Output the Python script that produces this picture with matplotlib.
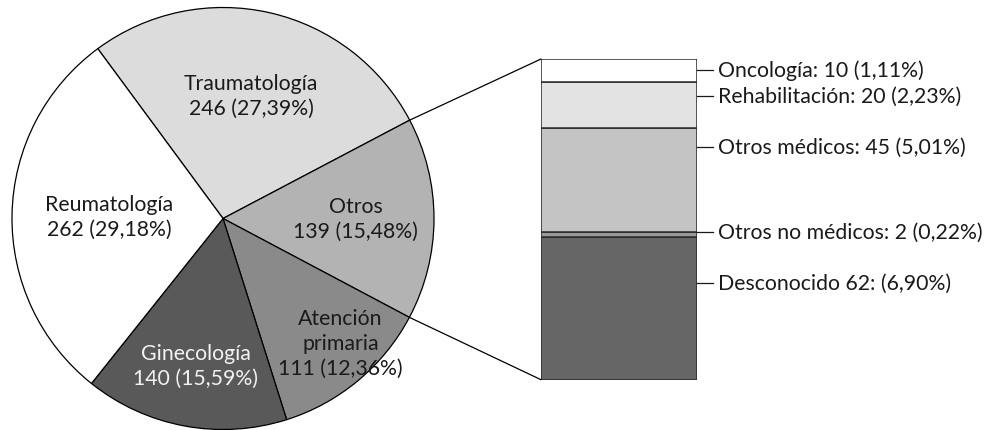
import matplotlib.pyplot as plt
import numpy as np
from matplotlib.patches import ConnectionPatch

plt.rcParams['font.family'] = ['Lato', 'DejaVu Sans']

# main pie: patients per referring service (clockwise from the top-left)
servicios = ['Traumatología', 'Otros', 'Atención\nprimaria', 'Ginecología', 'Reumatología']
pacientes = [246, 139, 111, 140, 262]
porcentajes = ['27,39%', '15,48%', '12,36%', '15,59%', '29,18%']
colores_pie = ['#dcdcdc', '#b3b3b3', '#8a8a8a', '#595959', '#ffffff']
colores_txt = ['#1a1a1a', '#1a1a1a', '#1a1a1a', '#f2f2f2', '#1a1a1a']

# breakdown of "Otros", stacked from the bottom up
otros_etiquetas = ['Desconocido 62: (6,90%)', 'Otros no médicos: 2 (0,22%)',
                   'Otros médicos: 45 (5,01%)', 'Rehabilitación: 20 (2,23%)',
                   'Oncología: 10 (1,11%)']
otros_n = [62, 2, 45, 20, 10]
colores_bar = ['#666666', '#999999', '#c4c4c4', '#e3e3e3', '#ffffff']

# where the labels sit along the bar (same units as the bar)
otros_label_y = [41.9, 64.2, 100.9, 123.1, 134.4]
# label radius (fraction of pie radius) and angle tweak per slice
label_r = [0.60, 0.63, 0.81, 0.71, 0.54]
label_dang = [0, 0, 3.6, 0, 0]

W, H = 985, 431
fig = plt.figure(figsize=(W / 100, H / 100), dpi=100)
ax = fig.add_axes([0, 0, 1, 1])

centro = (223, 211.5)
radio = 211
inicio = 126.4
ax.pie(pacientes, colors=colores_pie, startangle=inicio, counterclock=False,
       center=centro, radius=radio,
       wedgeprops=dict(edgecolor='black', linewidth=0.9))
ax.set_xlim(0, W)
ax.set_ylim(0, H)
ax.set_aspect('equal')
ax.axis('off')

fracs = np.array(pacientes) / sum(pacientes)
bordes = inicio - np.concatenate([[0], np.cumsum(fracs)]) * 360
for i in range(len(pacientes)):
    ang = np.radians((bordes[i] + bordes[i + 1]) / 2 + label_dang[i])
    x = centro[0] + label_r[i] * radio * np.cos(ang)
    y = centro[1] + label_r[i] * radio * np.sin(ang)
    ax.text(x, y, f'{servicios[i]}\n{pacientes[i]} ({porcentajes[i]})',
            ha='center', va='center', fontsize=15.3, color=colores_txt[i],
            linespacing=1.3)

# stacked bar for the "Otros" slice
axb = fig.add_axes([541 / W, (H - 380.7) / H, 156 / W, 320.7 / H])
total = sum(otros_n)
base = np.concatenate([[0], np.cumsum(otros_n)[:-1]])
axb.bar(0.5, otros_n, width=1, bottom=base, color=colores_bar,
        edgecolor='#2a2a2a', linewidth=1.1)
axb.set_xlim(0, 1)
axb.set_ylim(0, total)
axb.axis('off')

for y, txt in zip(otros_label_y, otros_etiquetas):
    axb.plot([1, 1 + 16 / 156], [y, y], color='#1a1a1a', lw=0.9, clip_on=False)
    axb.text(1 + 21 / 156, y, txt, ha='left', va='center', fontsize=15.3,
             color='#1a1a1a')

# lines joining the "Otros" wedge to the bar
for ang, yb in [(bordes[1], total), (bordes[2], 0)]:
    a = np.radians(ang)
    p = (centro[0] + radio * np.cos(a), centro[1] + radio * np.sin(a))
    con = ConnectionPatch(xyA=p, coordsA=ax.transData, xyB=(0, yb),
                          coordsB=axb.transData, color='black', lw=0.9)
    fig.add_artist(con)

fig.savefig('out.png', dpi=100)
